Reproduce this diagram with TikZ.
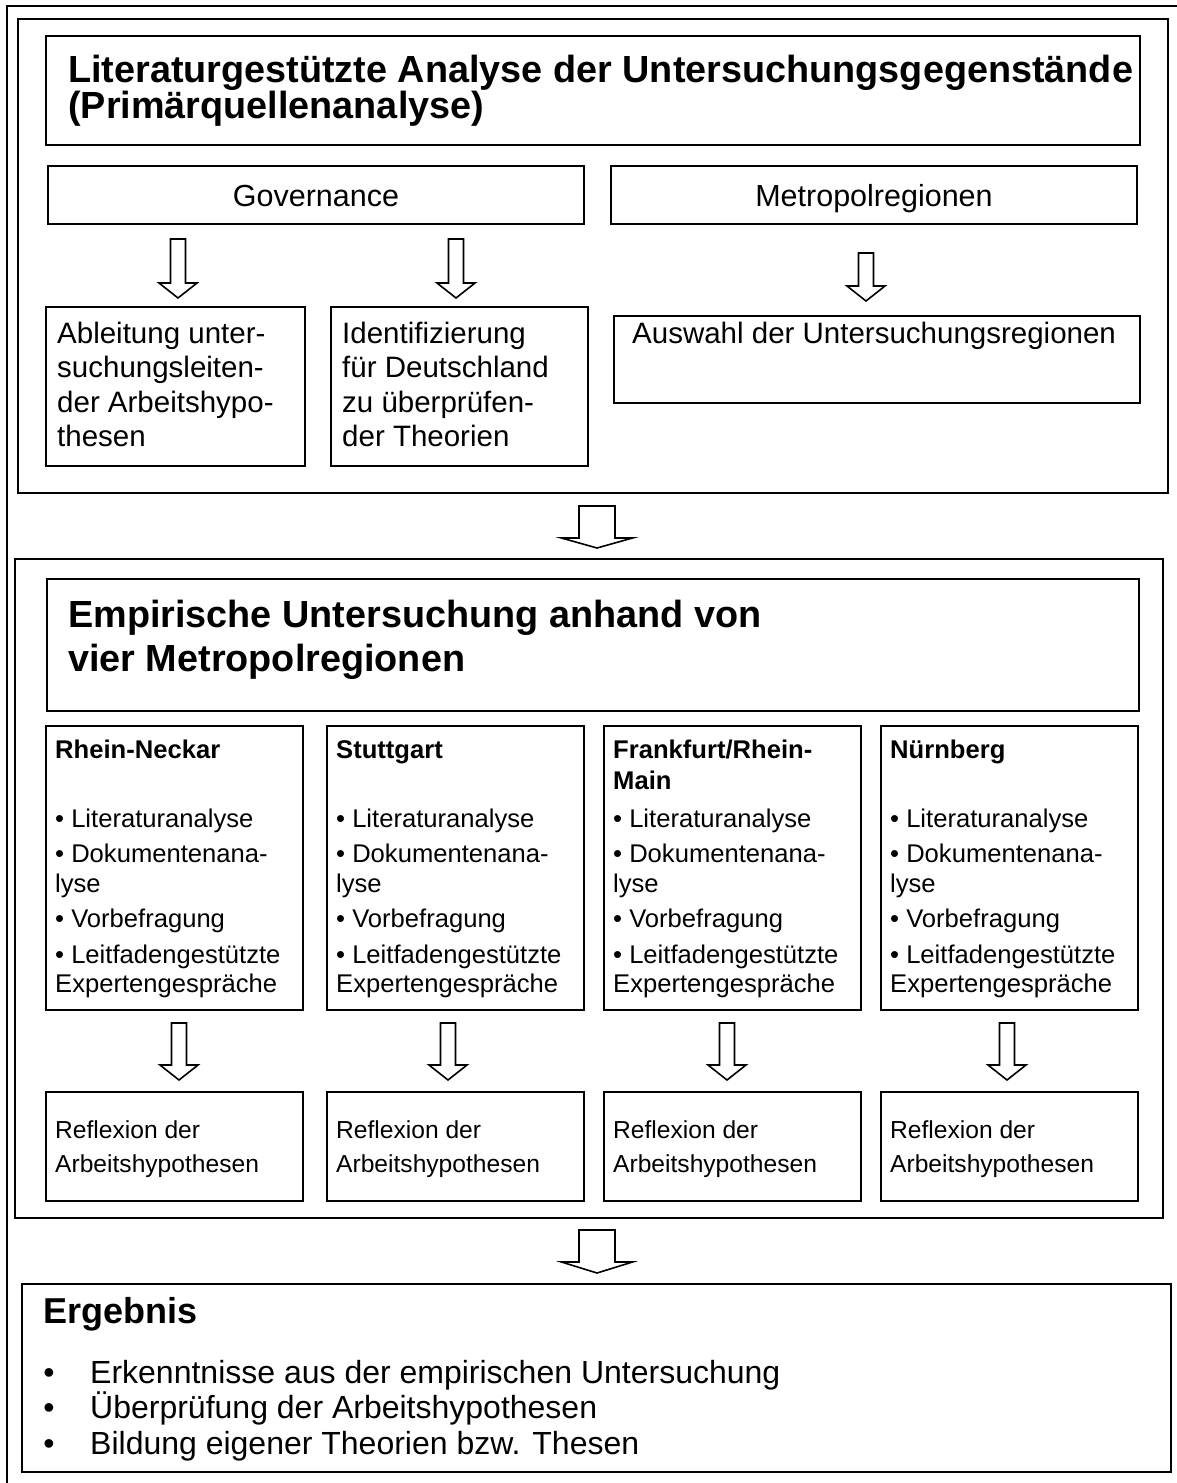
\documentclass[tikz,border=0pt]{standalone}
\usepackage{fontspec}
\setmainfont{Liberation Sans}
\usetikzlibrary{calc}

% rectangle node given by its top-left and bottom-right corners (pixel frame)
\newcommand\boxnode[5]{%
  \pgfmathsetmacro\bw{#4-#2}\pgfmathsetmacro\bh{#5-#3}%
  \node[box, minimum width=\bw pt, minimum height=\bh pt] (#1) at (#2,#3) {};}

% hollow block arrow: start (shaft top), tip, half shaft width, half head width, head length
\newcommand\blockarrow[5]{%
  \draw[hollowarrow] ($(#1)+(-#3,0)$) -- ($(#2)+(-#3,-#5)$) -- ($(#2)+(-#4,-#5)$)
    -- (#2) -- ($(#2)+(#4,-#5)$) -- ($(#2)+(#3,-#5)$) -- ($(#1)+(#3,0)$) -- cycle;}

\begin{document}
\begin{tikzpicture}[x=1pt,y=-1pt,
  frame/.style={draw, line width=1.8pt},
  box/.style={draw, line width=1.6pt, anchor=north west, inner sep=0pt, outer sep=0pt},
  hollowarrow/.style={draw, line width=1.6pt, fill=white, line join=miter},
  txt/.style={inner sep=0pt, anchor=base west},
  ctxt/.style={inner sep=0pt, anchor=base},
  bighead/.style={txt, font=\fontsize{37.8}{40}\selectfont\bfseries},
  midhead/.style={ctxt, font=\fontsize{30.5}{34}\selectfont},
  boxtext/.style={txt, font=\fontsize{29.5}{34}\selectfont},
  coltitle/.style={txt, font=\fontsize{25.6}{30}\selectfont\bfseries},
  coltext/.style={txt, font=\fontsize{25.6}{30}\selectfont},
  reftext/.style={txt, font=\fontsize{24.6}{30}\selectfont},
  restitle/.style={txt, font=\fontsize{36}{40}\selectfont\bfseries},
  restext/.style={txt, font=\fontsize{32}{36}\selectfont},
  resbullet/.style={ctxt, font=\fontsize{32}{36}\selectfont},
]
\useasboundingbox (0,0) rectangle (1176,1483);
\fill[white] (0,0) rectangle (1176,1483);

% page frame (right and bottom edges run off the page)
\draw[frame] (7,6) rectangle (1200,1500);

% ---------- part 1: literature analysis ----------
\boxnode{sec1}{18}{19}{1168}{493}
\boxnode{title1}{46}{36}{1140}{145}
\node[bighead] (t1a) at (68,82) {Literaturgestützte Analyse der Untersuchungsgegenstände};
\node[bighead] (t1b) at (68,118) {(Primärquellenanalyse)};

\boxnode{gov}{48}{166}{584}{224}
\node[midhead] (govT) at ($(gov.center)+(0,11)$) {Governance};
\boxnode{metro}{611}{166}{1137}{224}
\node[midhead] (metroT) at ($(metro.center)+(0,11)$) {Metropolregionen};

\boxnode{abl}{46}{307}{305}{466}
\node[boxtext] (abl1) at (57,343) {Ableitung unter-};
\node[boxtext] (abl2) at (57,377.5) {suchungsleiten-};
\node[boxtext] (abl3) at (57,412) {der Arbeitshypo-};
\node[boxtext] (abl4) at (57,446.5) {thesen};

\boxnode{ident}{331}{307}{588}{466}
\node[boxtext] (id1) at (342,343) {Identifizierung};
\node[boxtext] (id2) at (342,377.5) {für Deutschland};
\node[boxtext] (id3) at (342,412) {zu überprüfen-};
\node[boxtext] (id4) at (342,446.5) {der Theorien};

\boxnode{ausw}{614}{316}{1140}{403}
\node[boxtext] (ausT) at (632,343) {Auswahl der Untersuchungsregionen};

\coordinate (a1s) at (178,239); \coordinate (a1e) at (178,298);
\coordinate (a2s) at (456,239); \coordinate (a2e) at (456,298);
\coordinate (a3s) at (866,253); \coordinate (a3e) at (866,301);
\blockarrow{a1s}{a1e}{7.5}{19}{15}
\blockarrow{a2s}{a2e}{7.5}{19}{15}
\blockarrow{a3s}{a3e}{7.5}{19}{15}

% ---------- transition 1 -> 2 ----------
\coordinate (b1s) at (597,506); \coordinate (b1e) at (597,548);
\blockarrow{b1s}{b1e}{18}{35.5}{10}

% ---------- part 2: empirical study ----------
\boxnode{sec2}{15}{559}{1163}{1218}
\boxnode{title2}{47}{579}{1139}{711}
\node[bighead] (t2a) at (68,627) {Empirische Untersuchung anhand von};
\node[bighead] (t2b) at (68,671) {vier Metropolregionen};

\foreach \cx/\ax [count=\c] in {46/179, 327/448, 604/727, 881/1007}{
  \pgfmathsetmacro\rx{\cx+257}
  \boxnode{col\c}{\cx}{726}{\rx}{1010}
  \node[coltext] (col\c-l1) at (\cx+9,827) {• Literaturanalyse};
  \node[coltext] (col\c-l2) at (\cx+9,862) {• Dokumentenana-};
  \node[coltext] (col\c-l3) at (\cx+9,892) {lyse};
  \node[coltext] (col\c-l4) at (\cx+9,927) {• Vorbefragung};
  \node[coltext] (col\c-l5) at (\cx+9,963) {• Leitfadengestützte};
  \node[coltext] (col\c-l6) at (\cx+9,992) {Expertengespräche};
  \coordinate (c\c s) at (\ax,1023); \coordinate (c\c e) at (\ax,1080);
  \blockarrow{c\c s}{c\c e}{7.5}{19}{15}
  \boxnode{ref\c}{\cx}{1092}{\rx}{1201}
  \node[reftext] (ref\c-a) at (\cx+9,1138) {Reflexion der};
  \node[reftext] (ref\c-b) at (\cx+9,1172) {Arbeitshypothesen};
}
\node[coltitle] (col1-t) at (55,758) {Rhein-Neckar};
\node[coltitle] (col2-t) at (336,758) {Stuttgart};
\node[coltitle] (col3-t) at (613,758) {Frankfurt/Rhein-};
\node[coltitle] (col3-t2) at (613,789) {Main};
\node[coltitle] (col4-t) at (890,758) {Nürnberg};

% ---------- transition 2 -> result ----------
\coordinate (b2s) at (597,1230); \coordinate (b2e) at (597,1273);
\blockarrow{b2s}{b2e}{18}{35.5}{11}

% ---------- result ----------
\boxnode{res}{22}{1284}{1171}{1472}
\node[restitle] (resT) at (43,1323) {Ergebnis};
\node[resbullet] (rb1) at (49,1383) {•};
\node[restext] (r1) at (90,1383) {Erkenntnisse aus der empirischen Untersuchung};
\node[resbullet] (rb2) at (49,1418) {•};
\node[restext] (r2) at (90,1418) {Überprüfung der Arbeitshypothesen};
\node[resbullet] (rb3) at (49,1454) {•};
\node[restext] (r3) at (90,1454) {Bildung eigener Theorien bzw. Thesen};
\end{tikzpicture}
\end{document}
